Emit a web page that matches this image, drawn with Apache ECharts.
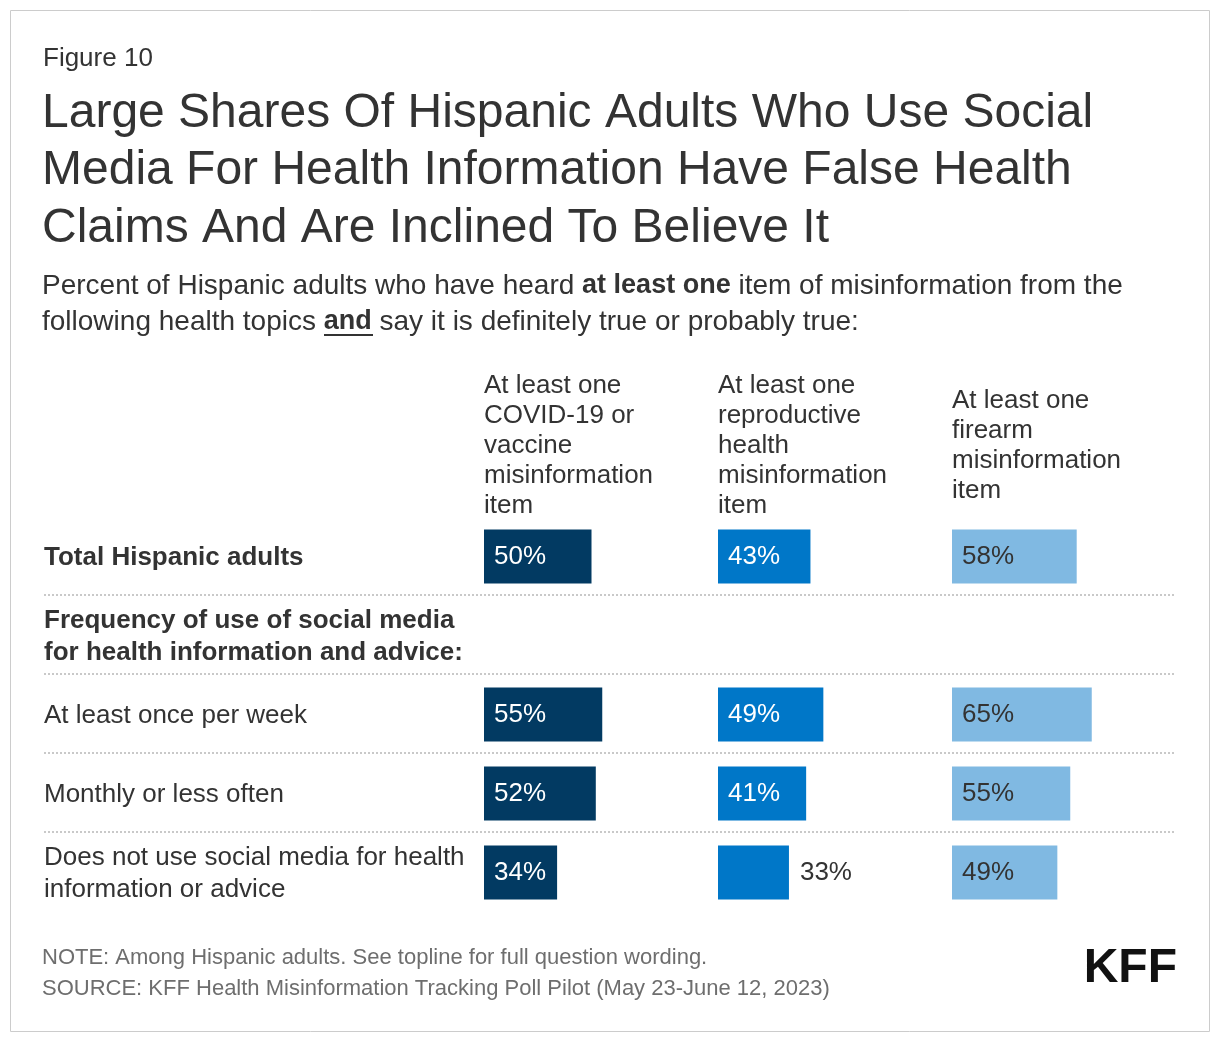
<!DOCTYPE html>
<html><head><meta charset="utf-8">
<script src="https://cdn.jsdelivr.net/npm/echarts@6/dist/echarts.min.js"></script>
<style>html,body{margin:0;padding:0;background:#fff}#c{width:1220px;height:1044px}</style>
</head><body><div id="c"></div>
<script>
const figureLabel = 'Figure 10';
const titleText = 'Large Shares Of Hispanic Adults Who Use Social\nMedia For Health Information Have False Health\nClaims And Are Inclined To Believe It';
const categories = [
  'Total Hispanic adults',
  'Frequency of use of social media\nfor health information and advice:',
  'At least once per week',
  'Monthly or less often',
  'Does not use social media for health\ninformation or advice'
];
const boldRows = [0, 1];
const columnHeaders = [
  'At least one\nCOVID-19 or\nvaccine\nmisinformation\nitem',
  'At least one\nreproductive\nhealth\nmisinformation\nitem',
  'At least one\nfirearm\nmisinformation\nitem'
];
const covidValues = [50, null, 55, 52, 34];
const reproValues = [43, null, 49, 41, 33];
const firearmValues = [58, null, 65, 55, 49];
const noteText = 'NOTE: Among Hispanic adults. See topline for full question wording.';
const sourceText = 'SOURCE: KFF Health Misinformation Tracking Poll Pilot (May 23-June 12, 2023)';

const FONT = '"Liberation Sans", Arial, Helvetica, sans-serif';
const colors = ['#023a62', '#0077c8', '#80b9e2'];
const labelColors = ['#ffffff', '#ffffff', '#333333'];
const seriesValues = [covidValues, reproValues, firearmValues];
const colLefts = [484, 718, 952];
const colWidth = 215;
const gridTop = 517, gridHeight = 395;

const chart = echarts.init(document.getElementById('c'), null, {renderer: 'canvas'});

const grids = [], xAxes = [], yAxes = [], series = [];
colLefts.forEach((l, i) => {
  grids.push({left: l, top: gridTop, width: colWidth, height: gridHeight, containLabel: false});
  xAxes.push({type: 'value', gridIndex: i, min: 0, max: 100, show: false});
  yAxes.push({
    type: 'category', gridIndex: i, data: categories, inverse: true,
    axisLine: {show: false}, axisTick: {show: false}, splitLine: {show: false},
    axisLabel: i === 0 ? {
      show: true, align: 'left', margin: 440, fontFamily: FONT, fontSize: 26,
      color: '#333', lineHeight: 32, padding: [3, 0, 0, 0],
      formatter: (v, idx) => boldRows.includes(idx) ? '{b|' + v + '}' : v,
      rich: {b: {fontWeight: 'bold', fontFamily: FONT, fontSize: 26, color: '#333', lineHeight: 32}}
    } : {show: false}
  });
  const vals = seriesValues[i];
  series.push({
    type: 'bar', xAxisIndex: i, yAxisIndex: i, barWidth: 54,
    itemStyle: {color: colors[i]},
    label: {show: true, position: 'insideLeft', distance: 10, formatter: '{c}%',
      fontFamily: FONT, fontSize: 26, color: labelColors[i]},
    data: vals.map((v, k) => {
      if (v === null) return '-';
      if (i === 1 && k === 4) return {value: v, label: {position: 'right', distance: 11, color: '#333'}};
      return v;
    }),
    animation: false
  });
});
// separator overlay grid
grids.push({left: 44, right: 44, top: gridTop - 1, height: gridHeight});
xAxes.push({type: 'value', gridIndex: 3, show: false});
yAxes.push({type: 'value', gridIndex: 3, min: 0, max: 5, interval: 1, inverse: true,
  axisLine: {show: false}, axisTick: {show: false}, axisLabel: {show: false},
  splitLine: {show: true, showMinLine: false, showMaxLine: false,
    lineStyle: {type: 'dotted', color: '#c9c9c9', width: 2}}});

const graphic = [
  {type: 'rect', shape: {x: 10.5, y: 10.5, width: 1199, height: 1021}, style: {fill: 'none', stroke: '#cccccc', lineWidth: 1}},
  {type: 'text', x: 43, y: 44, style: {text: figureLabel, font: '26px ' + FONT, fill: '#333', verticalAlign: 'top', lineHeight: 30}},
  {type: 'text', x: 42, y: 85, style: {text: titleText, font: '48px ' + FONT, fill: '#333', verticalAlign: 'top', lineHeight: 57.5}},
  {type: 'text', x: 42, y: 268, style: {
    text: 'Percent of Hispanic adults who have heard {b|at least one} item of misinformation from the\nfollowing health topics {b|and} say it is definitely true or probably true:',
    font: '28px ' + FONT, fill: '#333', verticalAlign: 'top', lineHeight: 36,
    rich: {b: {fontWeight: 'bold', fontSize: 27, fontFamily: FONT, fill: '#333', lineHeight: 36}}}},
  {type: 'line', shape: {x1: 324, y1: 335, x2: 373, y2: 335}, style: {stroke: '#333', lineWidth: 2}},
  {type: 'text', x: 42, y: 942, style: {text: noteText + '\n' + sourceText, font: '22px ' + FONT, fill: '#6e6e6e', verticalAlign: 'top', lineHeight: 31}},
  {type: 'text', x: 1177, y: 969, style: {text: 'KFF', font: 'bold 48px "Liberation Sans Narrow", ' + FONT, fill: '#111', align: 'right', verticalAlign: 'middle'}}
];
columnHeaders.forEach((h, i) => {
  graphic.push({type: 'text', x: colLefts[i], y: 446, style: {text: h, font: '26px ' + FONT, fill: '#333', verticalAlign: 'middle', lineHeight: 30}});
});

chart.setOption({
  animation: false,
  grid: grids, xAxis: xAxes, yAxis: yAxes, series: series, graphic: graphic
});
</script></body></html>
